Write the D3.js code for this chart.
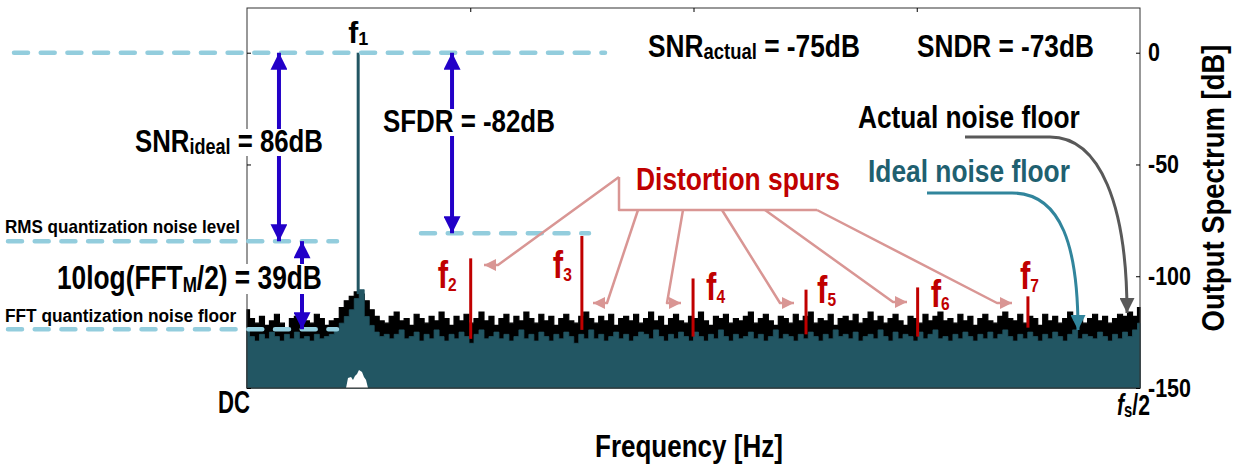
<!DOCTYPE html>
<html>
<head>
<meta charset="utf-8">
<script src="https://cdn.jsdelivr.net/npm/d3@7"></script>
<style>
body { margin: 0; background: #fff; }
svg text { font-family: "Liberation Sans", Arial, sans-serif; font-weight: bold; }
</style>
</head>
<body>
<script>
// measured noise floor, one value per FFT bin group (dB), DC .. fs/2
var actualFloor = [
  -115, -119, -121, -118, -122, -120, -117, -121, -123, -119,
  -118, -122, -120, -121, -117, -119, -122, -120, -119, -114,
  -111, -109, -107, -108, -111, -115, -118, -120, -121, -118,
  -116, -120, -119, -122, -117, -119, -121, -118, -120, -116,
  -119, -122, -118, -120, -117, -121, -119, -116, -120, -118,
  -122, -119, -117, -121, -118, -120, -116, -119, -121, -117,
  -120, -118, -122, -119, -117, -120, -121, -118, -116, -119,
  -121, -118, -120, -117, -122, -119, -118, -120, -117, -121,
  -119, -116, -120, -118, -122, -119, -117, -120, -121, -118,
  -119, -116, -120, -122, -118, -119, -117, -121, -119, -120,
  -118, -116, -121, -119, -117, -120, -122, -118, -119, -121,
  -117, -120, -118, -116, -121, -119, -120, -117, -122, -119,
  -118, -120, -117, -121, -119, -116, -120, -118, -121, -119,
  -117, -120, -122, -118, -119, -121, -117, -120, -118, -116,
  -120, -119, -121, -117, -120, -118, -122, -119, -117, -120,
  -121, -118, -116, -119, -120, -117, -121, -118, -119, -122,
  -117, -120, -118, -121, -119, -116, -120, -118, -121, -119,
  -117, -120, -118, -121, -119, -117, -118, -116, -118, -114
];
// ideal (quantization only) noise floor, dB
var idealFloor = [
  -124, -127, -129, -126, -128, -125, -127, -129, -126, -128,
  -125, -128, -127, -129, -126, -128, -127, -126, -124, -121,
  -118, -115, -110, -106, -118, -122, -125, -127, -126, -128,
  -126, -124, -128, -127, -125, -129, -126, -128, -124, -127,
  -129, -126, -128, -125, -127, -130, -126, -124, -128, -127,
  -125, -128, -126, -129, -127, -124, -128, -126, -129, -125,
  -127, -129, -126, -128, -125, -127, -130, -126, -128, -124,
  -128, -126, -129, -127, -125, -128, -126, -129, -127, -125,
  -126, -128, -124, -127, -129, -126, -128, -125, -127, -129,
  -125, -127, -129, -126, -128, -124, -127, -129, -126, -128,
  -127, -125, -128, -126, -129, -127, -124, -128, -126, -127,
  -129, -126, -128, -125, -127, -129, -126, -128, -124, -127,
  -126, -128, -125, -129, -127, -126, -128, -124, -127, -129,
  -125, -128, -126, -127, -129, -125, -128, -126, -124, -128,
  -127, -129, -126, -128, -125, -127, -129, -126, -128, -125,
  -128, -126, -124, -127, -129, -126, -128, -125, -127, -129,
  -126, -128, -125, -127, -129, -126, -124, -128, -126, -127,
  -128, -125, -127, -129, -126, -128, -125, -127, -124, -121
];
// fundamental and harmonics (frequency as fraction of fs/2, level dB)
var spurFreq = [0.1245, 0.2505, 0.375, 0.4995, 0.626, 0.751, 0.8745];
var spurDb = [0, -92, -82, -101, -106, -105, -109];
var spurNames = ["1", "2", "3", "4", "5", "6", "7"];
// low gap in the spectrum right under f1
var notchFreq = [0.1109, 0.1131, 0.1165, 0.1187, 0.1209, 0.1232, 0.1254, 0.1288, 0.1310, 0.1333, 0.1355];
var notchDb = [-150, -145.5, -145.1, -146.4, -144.6, -143.7, -142, -142.8, -145.1, -146.4, -150];

var yTicks = [0, -50, -100, -150];
var xTicks = [0.25, 0.5, 0.75];

var fullScaleDb = 0, rmsNoiseDb = -84.3, fftFloorDb = -123.7, sfdrDb = -80.8;

var width = 1237, height = 467;
var teal = "#225663", red = "#c00000", blue = "#2200c8", pink = "#d99694", dashBlue = "#93cddd";

var svg = d3.select("body").append("svg")
    .attr("width", width)
    .attr("height", height);

var x = d3.scaleLinear().domain([0, 1]).range([247, 1140]);
var y = d3.scaleLinear().domain([-150, 20]).range([388, 8]);

var defs = svg.append("defs");
function marker(id, color, len, wid) {
    defs.append("marker")
        .attr("id", id)
        .attr("viewBox", "0 0 10 10")
        .attr("refX", 10).attr("refY", 5)
        .attr("markerUnits", "userSpaceOnUse")
        .attr("markerWidth", len).attr("markerHeight", wid)
        .attr("orient", "auto-start-reverse")
      .append("path")
        .attr("d", "M0,0L10,5L0,10Z")
        .attr("fill", color);
}
marker("blueHead", blue, 18, 17);
marker("pinkHead", pink, 14, 12);
marker("tealHead", "#31859c", 17, 15);
marker("grayHead", "#595959", 17, 15);

// spectrum
var n = actualFloor.length;
var bins = actualFloor.map(function(d, i) {
    return { f: i / (n - 1), actual: d, ideal: idealFloor[i] };
});

var area = d3.area()
    .curve(d3.curveStep)
    .x(function(d) { return x(d.f); })
    .y0(y(-150));

svg.append("path")
    .datum(bins)
    .attr("d", area.y1(function(d) { return y(d.actual); }))
    .attr("fill", "#000")
    .attr("stroke", "#000")
    .attr("stroke-width", 1.2);

svg.append("path")
    .datum(bins)
    .attr("d", area.y1(function(d) { return y(d.ideal); }))
    .attr("fill", teal)
    .attr("stroke", teal)
    .attr("stroke-width", 0.8);

svg.append("path")
    .datum(notchFreq.map(function(f, i) { return { f: f, db: notchDb[i] }; }))
    .attr("d", d3.area()
        .x(function(d) { return x(d.f); })
        .y0(y(-150))
        .y1(function(d) { return y(d.db); }))
    .attr("fill", "#fff");

// tones
function floorAt(f) {
    return idealFloor[Math.round(f * (n - 1))];
}
svg.selectAll(".tone")
    .data(spurFreq)
  .enter().append("line")
    .attr("class", "tone")
    .attr("x1", function(d) { return x(d); })
    .attr("x2", function(d) { return x(d); })
    .attr("y1", function(d, i) { return y(spurDb[i]); })
    .attr("y2", function(d) { return y(floorAt(d) + 2); })
    .attr("stroke", function(d, i) { return i === 0 ? teal : red; })
    .attr("stroke-width", 3);

// frame and axes
svg.append("rect")
    .attr("x", x(0)).attr("y", y(20))
    .attr("width", x(1) - x(0)).attr("height", y(-150) - y(20))
    .attr("fill", "none").attr("stroke", "#333").attr("stroke-width", 1);

var cond = 0.82;   // narrow face look

svg.append("g")
    .attr("transform", "translate(" + x(1) + ",0)")
    .call(d3.axisRight(y).tickValues(yTicks).tickSize(-4).tickSizeOuter(0).tickPadding(8)
        .tickFormat(function(d) { return String(d); }))
    .call(function(g) {
        g.select(".domain").remove();
        g.selectAll("text")
            .attr("font-size", 25)
            .attr("fill", "#000")
            .attr("transform", "translate(8,0) scale(0.86,1) translate(-8,0)");
    });
svg.append("g")
    .attr("transform", "translate(" + x(0) + ",0)")
    .call(d3.axisLeft(y).tickValues(yTicks).tickSize(-4).tickSizeOuter(0).tickFormat(""))
    .call(function(g) { g.select(".domain").remove(); });
svg.append("g")
    .attr("transform", "translate(0," + y(20) + ")")
    .call(d3.axisTop(x).tickValues(xTicks).tickSize(-4).tickSizeOuter(0).tickFormat(""))
    .call(function(g) { g.select(".domain").remove(); });

// dashed reference levels
function dashed(x1, x2, db) {
    svg.append("line")
        .attr("x1", x1).attr("x2", x2)
        .attr("y1", y(db)).attr("y2", y(db))
        .attr("stroke", dashBlue)
        .attr("stroke-width", 4.5)
        .attr("stroke-linecap", "round")
        .attr("stroke-dasharray", "14,12.7");
}
dashed(14, 605, fullScaleDb);
dashed(8, 337, rmsNoiseDb);
dashed(8, 337, fftFloorDb);
dashed(421, 589, sfdrDb);

// blue measuring arrows
function measure(f, db1, db2) {
    svg.append("line")
        .attr("x1", x(f)).attr("x2", x(f))
        .attr("y1", y(db1)).attr("y2", y(db2))
        .attr("stroke", blue)
        .attr("stroke-width", 4)
        .attr("marker-start", "url(#blueHead)")
        .attr("marker-end", "url(#blueHead)");
}
measure(0.0358, fullScaleDb, rmsNoiseDb);
measure(0.0616, rmsNoiseDb, fftFloorDb);
measure(0.2296, fullScaleDb, sfdrDb);

// text helper: parts = [[string, isSub, italic], ...]; fitted to a target width
function label(parts, px, py, size, opts) {
    opts = opts || {};
    var subRatio = opts.sub || 0.7;
    var t = svg.append("text")
        .attr("x", px).attr("y", py)
        .attr("font-size", size)
        .attr("fill", opts.color || "#000");
    var shift = 0;
    parts.forEach(function(p) {
        var s = t.append("tspan").text(p[0]);
        if (p[1]) {
            var sub = Math.round(size * 0.08);
            s.attr("font-size", size * subRatio).attr("dy", sub);
            shift = sub;
        } else if (shift) {
            s.attr("dy", -shift);
            shift = 0;
        }
        if (p[2]) s.attr("font-style", "italic");
    });
    var b = t.node().getBBox();
    var sx = opts.w ? opts.w / b.width : cond;
    t.attr("transform", "translate(" + px + ",0) scale(" + sx + ",1) translate(" + (-px) + ",0)");
    if (opts.box) {
        svg.insert("rect", function() { return t.node(); })
            .attr("x", px + (b.x - px) * sx - 2).attr("y", b.y + 5)
            .attr("width", b.width * sx + 4).attr("height", b.height - 8)
            .attr("fill", "#fff");
    }
    return t;
}

label([["SNR"], ["ideal", true], [" = 86dB"]], 135, 152, 31, { w: 188, box: true });
label([["SFDR = -82dB"]], 383, 132, 31, { w: 172, box: true });
label([["10log(FFT"], ["M", true], ["/2) = 39dB"]], 57, 289, 33, { w: 265, box: true, sub: 0.65 });
label([["RMS quantization noise level"]], 5, 233, 19, { w: 235 });
label([["FFT quantization noise floor"]], 5, 322, 19, { w: 232 });
label([["SNR"], ["actual", true], [" = -75dB"]], 648, 57, 31, { w: 212 });
label([["SNDR = -73dB"]], 917, 57, 31, { w: 177 });
label([["Actual noise floor"]], 858, 128, 31, { w: 222 });
label([["Ideal noise floor"]], 868, 182, 31, { w: 202, color: "#1f6070" });
label([["Distortion spurs"]], 636, 190, 31, { w: 204, color: red });

// tone labels
var toneLabelDx = [-10, -33, -29, 13, 11, 13, -8];
var toneLabelY = [43, 288, 278, 300, 303, 307, 289];
spurFreq.forEach(function(f, i) {
    if (i === 0) {
        label([["f"], [spurNames[i], true]], x(f) + toneLabelDx[i], toneLabelY[i], 30, { sub: 0.6, w: 20 });
    } else {
        label([["f"], [spurNames[i], true]], x(f) + toneLabelDx[i], toneLabelY[i], 38, { sub: 0.5, color: red });
    }
});

// pink callouts
var pinkPaths = [
    "M619,177L619,210L817,210",
    "M619,177L498,265L484,265",
    "M638,210L607,303L593,303",
    "M683,210L667,303L681,303",
    "M722,210L780,303L794,303",
    "M765,210L893,302L907,302",
    "M817,210L997,303L1012,303"
];
svg.selectAll(".callout")
    .data(pinkPaths)
  .enter().append("path")
    .attr("class", "callout")
    .attr("d", function(d) { return d; })
    .attr("fill", "none")
    .attr("stroke", pink)
    .attr("stroke-width", 2.5)
    .attr("stroke-linejoin", "round")
    .attr("marker-end", function(d, i) { return i === 0 ? null : "url(#pinkHead)"; });

svg.append("path")
    .attr("d", "M965,137L1050,137C1100,137 1127,205 1127,313")
    .attr("fill", "none").attr("stroke", "#595959").attr("stroke-width", 3)
    .attr("marker-end", "url(#grayHead)");
svg.append("path")
    .attr("d", "M927,193L1012,193C1062,193 1078,248 1078,330")
    .attr("fill", "none").attr("stroke", "#31859c").attr("stroke-width", 3)
    .attr("marker-end", "url(#tealHead)");

// axis titles
label([["DC"]], 218, 413, 31, { w: 32 });
label([["f", false, true], ["s", true], ["/2"]], 1117, 415, 29, { w: 33 });
label([["Frequency [Hz]"]], 595, 457, 31, { w: 188 });
var yt = svg.append("text")
    .attr("text-anchor", "middle")
    .attr("font-size", 31)
    .text("Output Spectrum [dB]");
var yw = yt.node().getBBox().width;
yt.attr("transform", "translate(1224,188) rotate(-90) scale(" + (287 / yw) + ",1)");
</script>
</body>
</html>
